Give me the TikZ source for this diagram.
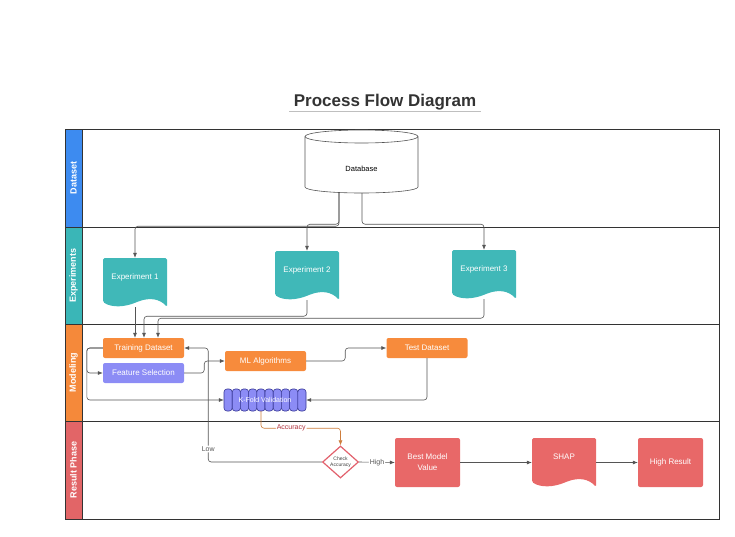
\documentclass[tikz,border=0pt]{standalone}
\usepackage{fontspec}
\setmainfont{Liberation Sans}
\usepackage{xcolor}
\usetikzlibrary{calc,shapes.geometric,arrows.meta}

\definecolor{laneblue}{RGB}{61,139,240}
\definecolor{laneteal}{RGB}{58,182,183}
\definecolor{laneorange}{RGB}{245,137,58}
\definecolor{lanered}{RGB}{226,101,103}
\definecolor{expteal}{RGB}{64,184,184}
\definecolor{boxorange}{RGB}{247,139,60}
\definecolor{boxpurple}{RGB}{140,140,245}
\definecolor{boxred}{RGB}{232,104,104}
\definecolor{kfoldedge}{RGB}{55,55,150}
\definecolor{accline}{RGB}{205,125,60}
\definecolor{acctext}{RGB}{176,50,60}
\definecolor{diaedge}{RGB}{226,96,108}
\definecolor{linegray}{RGB}{85,85,85}

\begin{document}
\begin{tikzpicture}[x=1pt, y=-1pt,
  lane/.style={text=white, font=\bfseries\fontsize{9}{10}\selectfont, rotate=90},
  procbox/.style={rounded corners=2pt, minimum width=81pt, minimum height=20pt, inner sep=0pt, text=white, font=\fontsize{8}{9}\selectfont},
  docbox/.style={minimum width=64pt, minimum height=49pt, text height=6pt, text depth=12pt, inner sep=0pt, text=white, font=\fontsize{8}{9}\selectfont},
  resbox/.style={fill=boxred, rounded corners=2pt, minimum width=65pt, minimum height=49pt, inner sep=0pt, text=white, align=center, font=\fontsize{8}{11}\selectfont},
  kseg/.style={fill=boxpurple, draw=kfoldedge, line width=0.6pt, rounded corners=3pt},
  conn/.style={linegray, line width=0.6pt, rounded corners=3pt, -{Latex[length=5pt,width=4pt]}},
  edgelbl/.style={fill=white, inner sep=1pt, font=\fontsize{7}{8}\selectfont}
]
  \useasboundingbox (0,0) rectangle (735,536);

  % title
  \node[font=\bfseries\fontsize{17}{20}\selectfont, text=black!80] (title) at (385,102.5) {Process Flow Diagram};
  \draw[black!25, line width=0.8pt] (289,111) -- (481,111);

  % swimlanes
  \fill[laneblue] (65,129) rectangle (82,227);
  \fill[laneteal] (65,227) rectangle (82,324);
  \fill[laneorange] (65,324) rectangle (82,421);
  \fill[lanered] (65,421) rectangle (82,519);
  \draw[black!80, line width=0.8pt] (65,129) rectangle (719,519);
  \foreach \y in {227,324,421}
    \draw[black!80, line width=0.8pt] (65,\y) -- (719,\y);
  \draw[black!80, line width=0.8pt] (82,129) -- (82,519);
  \node[lane] (lnData) at (73.5,178) {Dataset};
  \node[lane] (lnExp) at (73.5,275.5) {Experiments};
  \node[lane] (lnModel) at (73.5,372.5) {Modeling};
  \node[lane] (lnResult) at (73.5,470) {Result Phase};

  % database
  \draw[linegray, line width=0.6pt, fill=white] (305,136.5) -- (305,187) arc[start angle=180, end angle=0, x radius=56.5, y radius=6] -- (418,136.5);
  \draw[linegray, line width=0.6pt, fill=white] (361.5,136.5) ellipse [x radius=56.5, y radius=6.5];
  \node[minimum width=113pt, minimum height=63pt, text height=19pt, text depth=0pt, inner sep=0pt, font=\fontsize{7.5}{9}\selectfont] (db) at (361.5,161.5) {Database};

  % document shapes
  \fill[expteal, rounded corners=1.5pt] (103,302) -- (103,258) -- (167,258) -- (167,307) .. controls (160,299) and (150,297) .. (137,302) .. controls (125,307) and (112,308) .. (103,302) -- cycle;
  \fill[expteal, rounded corners=1.5pt] (275,295) -- (275,251) -- (339,251) -- (339,300) .. controls (332,292) and (322,290) .. (309,295) .. controls (297,300) and (284,301) .. (275,295) -- cycle;
  \fill[expteal, rounded corners=1.5pt] (452,294) -- (452,250) -- (516,250) -- (516,299) .. controls (509,291) and (499,289) .. (486,294) .. controls (474,299) and (461,300) .. (452,294) -- cycle;
  \fill[boxred, rounded corners=1.5pt] (532,482) -- (532,438) -- (596,438) -- (596,487) .. controls (589,479) and (579,477) .. (566,482) .. controls (554,487) and (541,488) .. (532,482) -- cycle;
  \node[docbox] (exp1) at (135,282.5) {Experiment 1};
  \node[docbox] (exp2) at (307,275.5) {Experiment 2};
  \node[docbox] (exp3) at (484,274.5) {Experiment 3};
  \node[docbox] (shap) at (564,462.5) {SHAP};

  % modeling
  \node[procbox, fill=boxorange] (train) at (143.5,348) {Training Dataset};
  \node[procbox, fill=boxpurple] (feat) at (143.5,373) {Feature Selection};
  \node[procbox, fill=boxorange] (mlalg) at (265.5,361) {ML Algorithms};
  \node[procbox, fill=boxorange] (test) at (427,348) {Test Dataset};
  \foreach \i in {0,...,9}
    \draw[kseg] ({224+\i*8.2},389) rectangle ++(8.2,22);
  \node[minimum width=82pt, minimum height=22pt, inner sep=0pt, text=white, font=\fontsize{7}{8}\selectfont] (kfold) at (265,400) {K-Fold Validation};

  % result phase
  \node[diamond, draw=diaedge, line width=1.2pt, fill=white, minimum width=36pt, minimum height=32pt, inner sep=0pt, align=center, text=black!75, font=\fontsize{5}{5.5}\selectfont] (check) at (340.5,462) {Check\\Accuracy};
  \node[resbox] (best) at (427.5,462.5) {Best Model\\Value};
  \node[resbox] (highres) at (670.5,462.5) {High Result};

  % connectors
  \draw[conn] ([xshift=-22.5pt]db.south) -- ++(0,33) -| (exp1.north);
  \draw[conn] ([xshift=-22.5pt]db.south) -- ++(0,31) -| (exp2.north);
  \draw[conn] ([xshift=0.5pt]db.south) -- ++(0,31) -| (exp3.north);
  \draw[conn] (exp1.south) -- (exp1.south |- train.north);
  \draw[conn] (exp2.south) -- ++(0,16) -| ([xshift=0.5pt]train.north);
  \draw[conn] (exp3.south) -- ++(0,19) -| ([xshift=14.5pt]train.north);
  \draw[conn] (train.west) -- ++(-16,0) |- (feat.west);
  \draw[conn] (train.west) -- ++(-16,0) |- (kfold.west);
  \draw[conn] (feat.east) -- ++(20,0) |- (mlalg.west);
  \draw[conn] (mlalg.east) -- ++(39,0) |- (test.west);
  \draw[conn] (test.south) |- (kfold.east);
  \draw[conn, accline] ([xshift=-4pt]kfold.south) -- ++(0,17) -| node[pos=0.19, edgelbl, text=acctext] {Accuracy} (check.north);
  \draw[conn] (check.west) -| node[pos=0.557, edgelbl] {Low} ([xshift=24pt]train.east) -- (train.east);
  \draw[conn] (check.east) -- node[edgelbl] {High} (best.west);
  \draw[conn] (best.east) -- (shap.west);
  \draw[conn] (shap.east) -- (highres.west);
\end{tikzpicture}
\end{document}
